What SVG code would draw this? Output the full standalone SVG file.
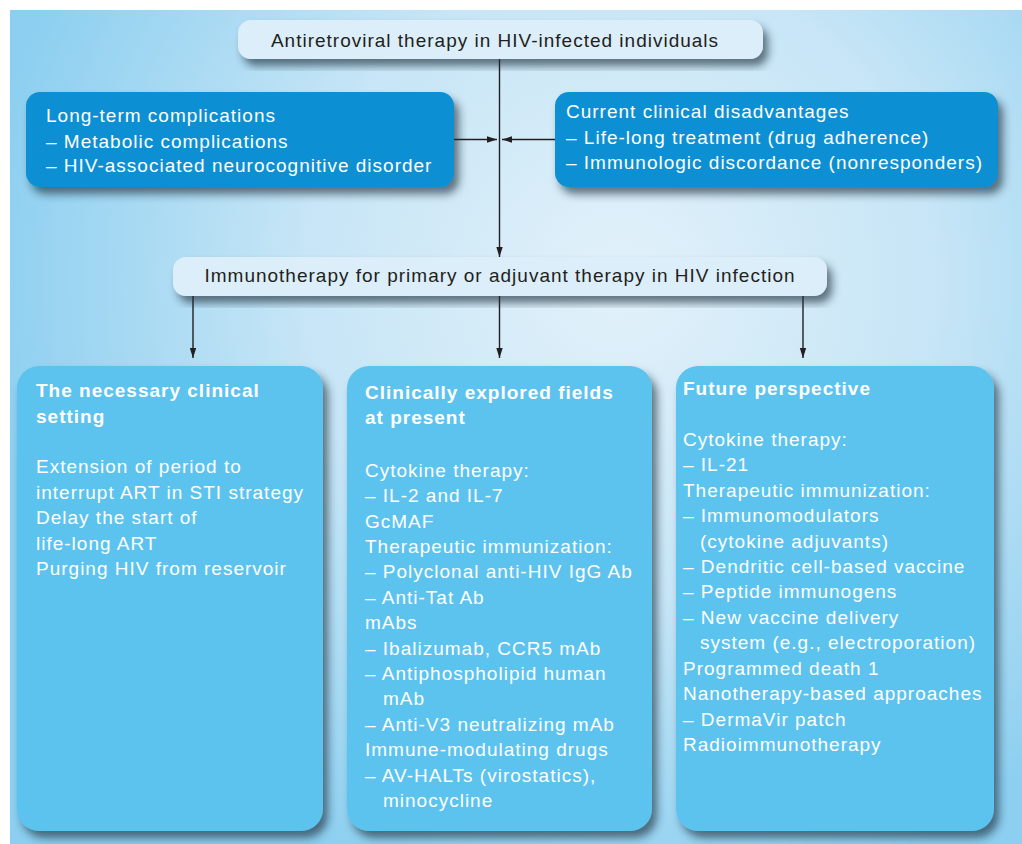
<svg xmlns="http://www.w3.org/2000/svg" width="1022" height="844" viewBox="0 0 1022 844">
<style>
.t{font-family:"Liberation Sans",Arial,sans-serif;font-size:19px;letter-spacing:1px}
.dk{fill:#231f20}
.wt{fill:#ffffff}
.b{font-weight:bold}
.ln{stroke:#231f20;stroke-width:1.4;fill:none}
.pale{fill:#dbeef9}
.dblue{fill:#0a8fd4}
.lblue{fill:#5bc3ef}
</style>
<defs>
<radialGradient id="bg" gradientUnits="userSpaceOnUse" cx="620" cy="280" r="640">
<stop offset="0" stop-color="#e2f1fa"/>
<stop offset="0.5" stop-color="#c6e5f6"/>
<stop offset="1" stop-color="#8ccff0"/>
</radialGradient>
<filter id="sh" x="-10%" y="-10%" width="130%" height="140%">
<feDropShadow dx="5" dy="7" stdDeviation="4" flood-color="#1e3040" flood-opacity="0.65"/>
</filter>
<marker id="ah" markerWidth="10" markerHeight="8" refX="10" refY="4" orient="auto" markerUnits="userSpaceOnUse">
<path d="M0,0.8 L10,4 L0,7.2 z" fill="#231f20"/>
</marker>
</defs>
<rect x="10" y="10" width="1012" height="834" fill="url(#bg)"/>

<g id="connectors">
<line class="ln" x1="499.5" y1="59" x2="499.5" y2="257" marker-end="url(#ah)"/>
<line class="ln" x1="454" y1="139.5" x2="497" y2="139.5" marker-end="url(#ah)"/>
<line class="ln" x1="555" y1="139.5" x2="502" y2="139.5" marker-end="url(#ah)"/>
<line class="ln" x1="193" y1="296" x2="193" y2="358" marker-end="url(#ah)"/>
<line class="ln" x1="499.5" y1="296" x2="499.5" y2="358" marker-end="url(#ah)"/>
<line class="ln" x1="803" y1="296" x2="803" y2="358" marker-end="url(#ah)"/>
</g>

<g id="art">
<rect class="pale" x="238" y="20" width="525" height="39" rx="13" filter="url(#sh)"/>
<text class="t dk" x="495" y="47" text-anchor="middle">Antiretroviral therapy in HIV-infected individuals</text>
</g>

<g id="complications">
<rect class="dblue" x="26" y="92" width="428" height="95" rx="14" filter="url(#sh)"/>
<text class="t wt" x="46" y="122">Long-term complications</text>
<text class="t wt" x="46" y="148">– Metabolic complications</text>
<text class="t wt" x="46" y="172">– HIV-associated neurocognitive disorder</text>
</g>

<g id="disadvantages">
<rect class="dblue" x="555" y="92" width="443" height="95" rx="14" filter="url(#sh)"/>
<text class="t wt" x="566" y="118">Current clinical disadvantages</text>
<text class="t wt" x="566" y="144">– Life-long treatment (drug adherence)</text>
<text class="t wt" x="566" y="169">– Immunologic discordance (nonresponders)</text>
</g>

<g id="immunotherapy">
<rect class="pale" x="173" y="257" width="654" height="39" rx="13" filter="url(#sh)"/>
<text class="t dk" x="500" y="282" text-anchor="middle">Immunotherapy for primary or adjuvant therapy in HIV infection</text>
</g>

<g id="setting">
<rect class="lblue" x="17" y="366" width="306" height="465" rx="22" filter="url(#sh)"/>
<text class="t wt b" x="36" y="397">The necessary clinical</text>
<text class="t wt b" x="36" y="423">setting</text>
<text class="t wt" x="36" y="473">Extension of period to</text>
<text class="t wt" x="36" y="499">interrupt ART in STI strategy</text>
<text class="t wt" x="36" y="524">Delay the start of</text>
<text class="t wt" x="36" y="550">life-long ART</text>
<text class="t wt" x="36" y="575">Purging HIV from reservoir</text>
</g>

<g id="explored">
<rect class="lblue" x="347" y="366" width="305" height="465" rx="22" filter="url(#sh)"/>
<text class="t wt b" x="365" y="399">Clinically explored fields</text>
<text class="t wt b" x="365" y="424">at present</text>
<text class="t wt" x="365" y="477">Cytokine therapy:</text>
<text class="t wt" x="365" y="502">– IL-2 and IL-7</text>
<text class="t wt" x="365" y="528">GcMAF</text>
<text class="t wt" x="365" y="553">Therapeutic immunization:</text>
<text class="t wt" x="365" y="578">– Polyclonal anti-HIV IgG Ab</text>
<text class="t wt" x="365" y="604">– Anti-Tat Ab</text>
<text class="t wt" x="365" y="629">mAbs</text>
<text class="t wt" x="365" y="655">– Ibalizumab, CCR5 mAb</text>
<text class="t wt" x="365" y="680">– Antiphospholipid human</text>
<text class="t wt" x="383" y="705">mAb</text>
<text class="t wt" x="365" y="731">– Anti-V3 neutralizing mAb</text>
<text class="t wt" x="365" y="756">Immune-modulating drugs</text>
<text class="t wt" x="365" y="782">– AV-HALTs (virostatics),</text>
<text class="t wt" x="383" y="807">minocycline</text>
</g>

<g id="future">
<rect class="lblue" x="676" y="366" width="318" height="465" rx="22" filter="url(#sh)"/>
<text class="t wt b" x="683" y="395">Future perspective</text>
<text class="t wt" x="683" y="446">Cytokine therapy:</text>
<text class="t wt" x="683" y="471">– IL-21</text>
<text class="t wt" x="683" y="497">Therapeutic immunization:</text>
<text class="t wt" x="683" y="522">– Immunomodulators</text>
<text class="t wt" x="700" y="548">(cytokine adjuvants)</text>
<text class="t wt" x="683" y="573">– Dendritic cell-based vaccine</text>
<text class="t wt" x="683" y="598">– Peptide immunogens</text>
<text class="t wt" x="683" y="624">– New vaccine delivery</text>
<text class="t wt" x="700" y="649">system (e.g., electroporation)</text>
<text class="t wt" x="683" y="675">Programmed death 1</text>
<text class="t wt" x="683" y="700">Nanotherapy-based approaches</text>
<text class="t wt" x="683" y="726">– DermaVir patch</text>
<text class="t wt" x="683" y="751">Radioimmunotherapy</text>
</g>
</svg>
